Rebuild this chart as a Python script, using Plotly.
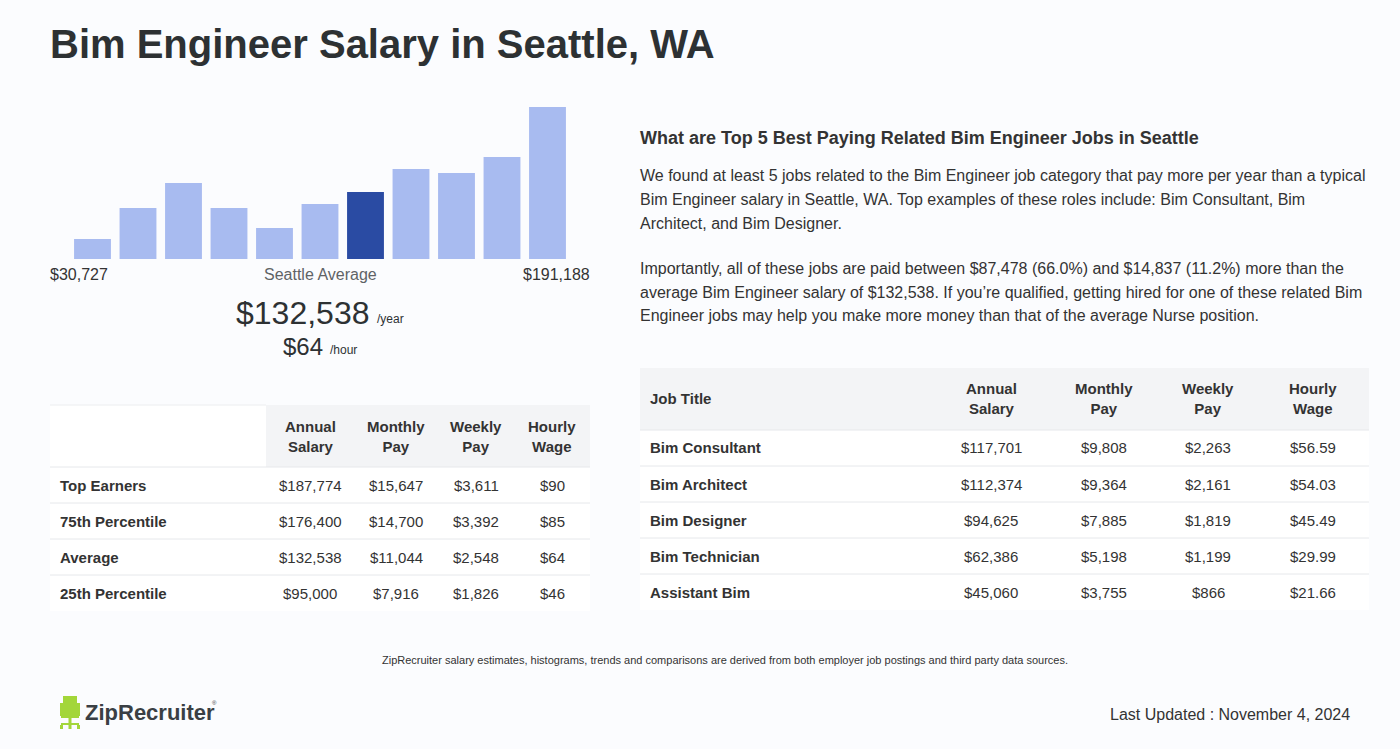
import plotly.graph_objects as go

W, H = 1400, 749
FONT = "Liberation Sans, Arial, sans-serif"
DARK = "#2d3133"
TXT = "#333333"

# ---------------- data ----------------
hist_heights = [20, 51, 76, 51, 31, 55, 67, 90, 86, 102, 152]
hist_highlight = 6
hist_min_label = "$30,727"
hist_max_label = "$191,188"
avg_year = "$132,538"
avg_hour = "$64"

left_cols = ["Annual<br>Salary", "Monthly<br>Pay", "Weekly<br>Pay", "Hourly<br>Wage"]
left_rows = ["Top Earners", "75th Percentile", "Average", "25th Percentile"]
left_annual = ["$187,774", "$176,400", "$132,538", "$95,000"]
left_monthly = ["$15,647", "$14,700", "$11,044", "$7,916"]
left_weekly = ["$3,611", "$3,392", "$2,548", "$1,826"]
left_hourly = ["$90", "$85", "$64", "$46"]

right_cols = ["Annual<br>Salary", "Monthly<br>Pay", "Weekly<br>Pay", "Hourly<br>Wage"]
right_jobs = ["Bim Consultant", "Bim Architect", "Bim Designer", "Bim Technician", "Assistant Bim"]
right_annual = ["$117,701", "$112,374", "$94,625", "$62,386", "$45,060"]
right_monthly = ["$9,808", "$9,364", "$7,885", "$5,198", "$3,755"]
right_weekly = ["$2,263", "$2,161", "$1,819", "$1,199", "$866"]
right_hourly = ["$56.59", "$54.03", "$45.49", "$29.99", "$21.66"]

para1 = ["We found at least 5 jobs related to the Bim Engineer job category that pay more per year than a typical",
         "Bim Engineer salary in Seattle, WA. Top examples of these roles include: Bim Consultant, Bim",
         "Architect, and Bim Designer."]
para2 = ["Importantly, all of these jobs are paid between $87,478 (66.0%) and $14,837 (11.2%) more than the",
         "average Bim Engineer salary of $132,538. If you\u2019re qualified, getting hired for one of these related Bim",
         "Engineer jobs may help you make more money than that of the average Nurse position."]


def px(x):
    return x / W


def py(y):
    return 1 - y / H


fig = go.Figure()

# ---------------- histogram ----------------
colors = ["#2a4ba3" if i == hist_highlight else "#a8bbf0" for i in range(len(hist_heights))]
fig.add_trace(go.Bar(x=list(range(len(hist_heights))), y=hist_heights, marker=dict(color=colors, line=dict(width=0)),
                     hoverinfo="skip", showlegend=False))

annotations = []
shapes = []


def text(x, y, s, size, color=TXT, bold=False, xanchor="left", yanchor="middle"):
    if bold:
        s = "<b>" + s + "</b>"
    annotations.append(dict(x=px(x), y=py(y), xref="paper", yref="paper", text=s, showarrow=False,
                            xanchor=xanchor, yanchor=yanchor, align="center" if xanchor == "center" else xanchor,
                            borderpad=0, borderwidth=0,
                            font=dict(family=FONT, size=size, color=color)))


def rect(x0, y0, x1, y1, fill):
    shapes.append(dict(type="rect", xref="paper", yref="paper", x0=px(x0), x1=px(x1), y0=py(y1), y1=py(y0),
                       fillcolor=fill, line=dict(width=0), layer="below"))


def hline(x0, x1, y, color="#e6e8eb"):
    shapes.append(dict(type="line", xref="paper", yref="paper", x0=px(x0), x1=px(x1), y0=py(y), y1=py(y),
                       line=dict(color=color, width=1), layer="above"))


# title
text(50, 44, "Bim Engineer Salary in Seattle, WA", 40, DARK, bold=True)

# histogram labels
text(50, 275, hist_min_label, 16, TXT)
text(320, 275, "Seattle Average", 16, "#5f6366", xanchor="center")
text(590, 275, hist_max_label, 16, TXT, xanchor="right")
text(369, 313, avg_year, 32, DARK, xanchor="right")
text(377, 319, "/year", 12, DARK)
text(323, 346, avg_hour, 24, DARK, xanchor="right")
text(330, 350, "/hour", 12, DARK)

# ---------------- left table ----------------
rect(50, 405, 590, 611, "#ffffff")
rect(266, 405, 590, 467, "#f3f4f6")
hline(50, 266, 405, "#eceef0")
hline(50, 590, 467)
left_cx = [310, 396, 476, 552]
for c, lab in enumerate(left_cols):
    text(left_cx[c], 436, lab, 15, TXT, bold=True, xanchor="center")
left_vals = [left_annual, left_monthly, left_weekly, left_hourly]
for r, lab in enumerate(left_rows):
    yc = 485 + 36 * r
    if r > 0:
        hline(50, 590, 467 + 36 * r)
    text(60, yc, lab, 15, TXT, bold=True)
    for c in range(4):
        text(left_cx[c], yc, left_vals[c][r], 15, TXT, xanchor="center")

# ---------------- right text ----------------
text(640, 138, "What are Top 5 Best Paying Related Bim Engineer Jobs in Seattle", 18, TXT, bold=True)
for i, line in enumerate(para1):
    text(640, 175 + 24 * i, line, 16, TXT)
for i, line in enumerate(para2):
    text(640, 268 + 24 * i, line, 16, TXT)

# ---------------- right table ----------------
rect(640, 368, 1369, 610, "#ffffff")
rect(640, 368, 1369, 430, "#f3f4f6")
hline(640, 1369, 430)
right_cx = [991, 1104, 1208, 1313]
text(650, 399, "Job Title", 15, TXT, bold=True)
for c, lab in enumerate(right_cols):
    text(right_cx[c], 399, lab, 15, TXT, bold=True, xanchor="center")
right_vals = [right_annual, right_monthly, right_weekly, right_hourly]
for r, lab in enumerate(right_jobs):
    yc = 448 + 36 * r
    if r > 0:
        hline(640, 1369, 430 + 36 * r)
    text(650, yc, lab, 15, TXT, bold=True)
    for c in range(4):
        text(right_cx[c], yc, right_vals[c][r], 15, TXT, xanchor="center")

# ---------------- footer ----------------
text(725, 660, "ZipRecruiter salary estimates, histograms, trends and comparisons are derived from both employer job postings and third party data sources.",
     11, TXT, xanchor="center")
text(1350, 714, "Last Updated : November 4, 2024", 16, TXT, xanchor="right")

# logo chair
LIME = "#a3d63a"
rect(63, 696, 77, 714, LIME)
rect(60, 703, 63, 716, LIME)
rect(77, 703, 80, 716, LIME)
rect(61, 714, 79, 718, LIME)
rect(68.5, 718, 71.5, 724, LIME)
rect(61, 723, 79, 725, LIME)
rect(60, 725, 63, 729, LIME)
rect(68.5, 725, 71.5, 729, LIME)
rect(77, 725, 80, 729, LIME)
text(85, 712, "ZipRecruiter", 22, "#3a3f44", bold=True)
text(212, 703, "\u00ae", 6, "#3a3f44")

fig.update_layout(
    width=W, height=H,
    margin=dict(l=0, r=0, t=0, b=0),
    paper_bgcolor="#fbfcfe",
    plot_bgcolor="rgba(0,0,0,0)",
    bargap=0.19,
    xaxis=dict(domain=[px(69.75), px(570.25)], range=[-0.5, 10.5], visible=False, fixedrange=True),
    yaxis=dict(domain=[py(259), py(107)], range=[0, 152], visible=False, fixedrange=True),
    annotations=annotations,
    shapes=shapes,
    showlegend=False,
)

fig.write_html("out.html", config={"displayModeBar": False},
               post_script="document.body.style.margin='0px';document.body.style.background='#fbfcfe';")
